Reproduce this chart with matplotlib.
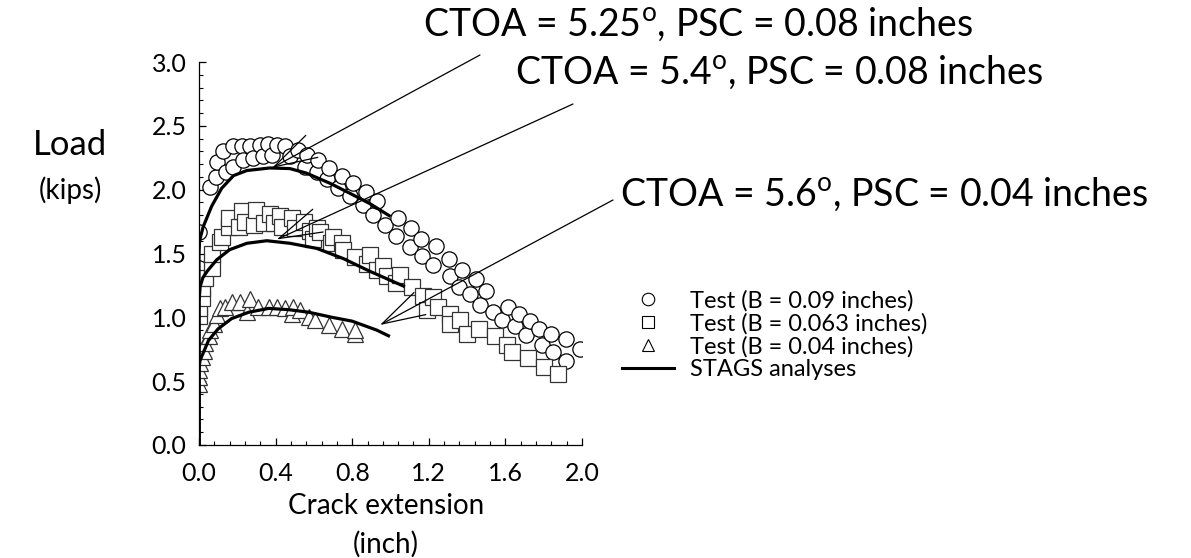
#-*- coding: utf-8 -*-
# load vs. crack extension, test data and STAGS analyses
import numpy as np
import matplotlib
matplotlib.use('Agg')
import matplotlib.pyplot as plt
from matplotlib.lines import Line2D
from matplotlib.ticker import MultipleLocator, FormatStrFormatter

plt.rcParams['font.family'] = ['Lato', 'DejaVu Sans']
plt.rcParams['mathtext.fontset'] = 'custom'
plt.rcParams['mathtext.rm'] = 'Lato'

# test, B = 0.09 inches
circ_x = [0.0, 0.0, 0.057, 0.089, 0.092, 0.125, 0.141, 0.176, 0.178, 0.223, 0.231, 0.266,
          0.283, 0.319, 0.335, 0.361, 0.38, 0.405, 0.449, 0.475, 0.518, 0.554, 0.562, 0.614,
          0.623, 0.667, 0.68, 0.727, 0.745, 0.789, 0.803, 0.857, 0.87, 0.91, 0.928, 0.97,
          1.03, 1.04, 1.10, 1.105, 1.158, 1.163, 1.22, 1.236, 1.31, 1.307, 1.36, 1.372,
          1.415, 1.446, 1.467, 1.50, 1.537, 1.58, 1.615, 1.65, 1.673, 1.71, 1.728, 1.777,
          1.79, 1.836, 1.85, 1.916, 1.915, 1.99]
circ_y = [1.67, 1.39, 2.02, 2.10, 2.22, 2.30, 2.14, 2.34, 2.18, 2.34, 2.23, 2.34,
          2.25, 2.35, 2.26, 2.36, 2.27, 2.35, 2.34, 2.26, 2.31, 2.18, 2.27, 2.14,
          2.23, 2.08, 2.17, 2.01, 2.11, 1.95, 2.05, 1.88, 1.98, 1.80, 1.91, 1.72,
          1.64, 1.78, 1.55, 1.70, 1.61, 1.48, 1.41, 1.56, 1.32, 1.46, 1.24, 1.37,
          1.18, 1.30, 1.10, 1.21, 1.04, 0.98, 1.08, 0.93, 1.03, 0.86, 0.97, 0.91,
          0.78, 0.87, 0.73, 0.83, 0.66, 0.75]

# test, B = 0.063 inches
sq_x = [0.0, 0.0, 0.016, 0.016, 0.03, 0.068, 0.068, 0.11, 0.12, 0.155, 0.155, 0.207,
        0.225, 0.24, 0.285, 0.30, 0.338, 0.372, 0.39, 0.425, 0.433, 0.486, 0.503, 0.547,
        0.58, 0.597, 0.616, 0.632, 0.69, 0.70, 0.745, 0.754, 0.815, 0.875, 0.893, 0.928,
        0.962, 0.98, 1.03, 1.05, 1.11, 1.17, 1.19, 1.22, 1.25, 1.31, 1.31, 1.363,
        1.40, 1.46, 1.546, 1.607, 1.633, 1.72, 1.80, 1.876]
sq_y = [1.01, 1.07, 1.15, 1.23, 1.31, 1.39, 1.50, 1.59, 1.63, 1.71, 1.78, 1.71,
        1.83, 1.75, 1.72, 1.84, 1.74, 1.81, 1.74, 1.79, 1.71, 1.78, 1.70, 1.75,
        1.68, 1.61, 1.70, 1.67, 1.58, 1.63, 1.58, 1.53, 1.47, 1.42, 1.49, 1.37,
        1.40, 1.32, 1.27, 1.33, 1.24, 1.17, 1.06, 1.16, 1.08, 1.03, 0.95, 0.98,
        0.87, 0.91, 0.85, 0.78, 0.73, 0.68, 0.61, 0.56]

# test, B = 0.04 inches
tri_x = [0.0, 0.0, 0.0, 0.005, 0.016, 0.024, 0.033, 0.05, 0.059, 0.077, 0.094, 0.111,
         0.137, 0.172, 0.216, 0.25, 0.268, 0.31, 0.364, 0.407, 0.45, 0.486, 0.49, 0.529,
         0.573, 0.607, 0.677, 0.747, 0.816, 0.816]
tri_y = [0.48, 0.53, 0.59, 0.64, 0.69, 0.74, 0.80, 0.85, 0.90, 0.95, 1.02, 1.07,
         1.08, 1.12, 1.12, 1.04, 1.14, 1.08, 1.08, 1.08, 1.07, 1.03, 1.08, 1.06,
         1.00, 0.98, 0.94, 0.91, 0.87, 0.90]

# STAGS analyses
stags1_x = [0.0, 0.0, 0.003, 0.022, 0.066, 0.118, 0.18, 0.25, 0.37, 0.475, 0.56, 0.684, 0.79, 0.893, 1.0]
stags1_y = [0.0, 1.50, 1.60, 1.71, 1.87, 2.01, 2.11, 2.15, 2.17, 2.165, 2.13, 2.05, 1.97, 1.89, 1.79]
stags2_x = [0.0, 0.0, 0.006, 0.02, 0.042, 0.092, 0.16, 0.25, 0.354, 0.475, 0.615, 0.754, 0.893, 1.075]
stags2_y = [0.0, 1.12, 1.24, 1.31, 1.36, 1.45, 1.53, 1.58, 1.60, 1.58, 1.54, 1.46, 1.36, 1.24]
stags3_x = [0.0, 0.0, 0.005, 0.016, 0.05, 0.10, 0.17, 0.26, 0.364, 0.468, 0.573, 0.695, 0.80, 0.928, 0.997]
stags3_y = [0.0, 0.60, 0.66, 0.70, 0.82, 0.91, 0.99, 1.04, 1.07, 1.06, 1.04, 1.00, 0.97, 0.90, 0.85]

labels = ['Test (B = 0.09 inches)', 'Test (B = 0.063 inches)',
          'Test (B = 0.04 inches)', 'STAGS analyses']
notes = ['CTOA = 5.25$^{\\mathrm{o}}$, PSC = 0.08 inches',
         'CTOA = 5.4$^{\\mathrm{o}}$, PSC = 0.08 inches',
         'CTOA = 5.6$^{\\mathrm{o}}$, PSC = 0.04 inches']

W, H = 1191, 558
fig = plt.figure(figsize=(W / 100, H / 100), dpi=100)
ax = fig.add_axes([199 / W, 1 - 445 / H, 383 / W, 383 / H])

ms = 11
ax.plot(circ_x, circ_y, 'o', ms=ms, mfc='white', mec='black', mew=0.9, zorder=2)
ax.plot(sq_x, sq_y, 's', ms=ms, mfc='white', mec='#333333', mew=0.9, zorder=3)
ax.plot(tri_x, tri_y, '^', ms=ms, mfc='white', mec='#333333', mew=0.9, zorder=4)
for xs, ys in [(stags1_x, stags1_y), (stags2_x, stags2_y), (stags3_x, stags3_y)]:
    ax.plot(xs, ys, '-', color='black', lw=2.3, zorder=5, solid_capstyle='butt')

ax.set_xlim(0, 2.0)
ax.set_ylim(0, 3.0)
ax.spines['top'].set_visible(False)
ax.spines['right'].set_visible(False)
for s in ['left', 'bottom']:
    ax.spines[s].set_linewidth(0.9)
ax.xaxis.set_major_locator(MultipleLocator(0.4))
ax.xaxis.set_minor_locator(MultipleLocator(0.08))
ax.yaxis.set_major_locator(MultipleLocator(0.5))
ax.yaxis.set_minor_locator(MultipleLocator(0.1))
ax.xaxis.set_major_formatter(FormatStrFormatter('%.1f'))
ax.yaxis.set_major_formatter(FormatStrFormatter('%.1f'))
ax.tick_params(which='major', direction='in', length=5, width=0.9, labelsize=18)
ax.tick_params(axis='x', which='major', pad=12)
ax.tick_params(axis='y', which='major', pad=9)
ax.tick_params(which='minor', direction='in', length=3, width=0.8)

fig.text(386 / W, 1 - 506 / H, 'Crack extension', fontsize=20, ha='center', va='center')
fig.text(386 / W, 1 - 544 / H, '(inch)', fontsize=20, ha='center', va='center')

fig.text(70 / W, 1 - 145 / H, 'Load', fontsize=25, ha='center', va='center')
fig.text(70 / W, 1 - 190 / H, '(kips)', fontsize=20, ha='center', va='center')

# notes with leader arrows
note_pos = [(423, 24), (515, 72), (620, 194)]
tips = [(0.381, 2.17), (0.406, 1.61), (0.945, 0.94)]
ends = [(480, 55), (573, 104), (613, 200)]
for txt, (tx, ty), tip, (ex, ey) in zip(notes, note_pos, tips, ends):
    fig.text(tx / W, 1 - ty / H, txt, fontsize=27, ha='left', va='center')
    ax.annotate('', xy=tip, xycoords='data',
                xytext=(ex / W, 1 - ey / H), textcoords='figure fraction',
                arrowprops=dict(arrowstyle='->,head_length=3.1,head_width=0.9',
                                mutation_scale=10, lw=0.9, color='black',
                                shrinkA=0, shrinkB=0),
                zorder=6, annotation_clip=False)

handles = [Line2D([], [], ls='none', marker='o', ms=9, mfc='white', mec='black', mew=0.8),
           Line2D([], [], ls='none', marker='s', ms=8, mfc='white', mec='black', mew=0.8),
           Line2D([], [], ls='none', marker='^', ms=9, mfc='white', mec='black', mew=0.8),
           Line2D([], [], color='black', lw=2.2)]
ax.legend(handles, labels, loc='upper left', bbox_to_anchor=(610 / W, 1 - 278 / H),
          bbox_transform=fig.transFigure, frameon=False, fontsize=17,
          handlelength=2.2, handletextpad=0.68, labelspacing=0.07, borderpad=0)

fig.savefig('out.png', dpi=100)
